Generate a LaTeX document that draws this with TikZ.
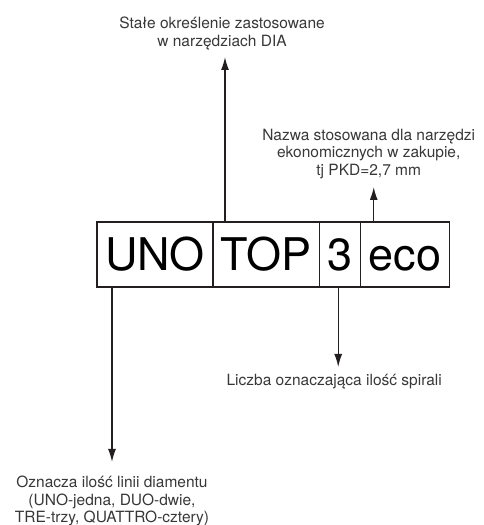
\documentclass[tikz,border=0pt]{standalone}
\usepackage{fontspec}
\setmainfont{TeX Gyre Heros}
\usetikzlibrary{positioning,arrows.meta}

\definecolor{inkgray}{HTML}{231F20}
\definecolor{notegray}{HTML}{383838}

\begin{document}
\begin{tikzpicture}[x=1pt,y=1pt,
codebox/.style={
draw=inkgray,
line width=1.3pt,
font=\fontsize{45}{45}\selectfont,
text height=32.4pt,
text depth=0pt,
minimum height=65pt,
inner xsep=8pt,
inner ysep=0pt,
outer sep=0pt,
anchor=west
},
note/.style={
font=\fontsize{15.5}{17.5}\selectfont,
text=notegray,
align=center,
inner sep=0pt
},
pointer/.style={
draw=inkgray,
line width=1.4pt,
-{Latex[length=13pt,width=8pt]}
}
]

\useasboundingbox (0,0) rectangle (483,525);

%%%%%%%%%%%%%%%%%%%%%%%%%%%%%%%%%%%%%%%%%%%%%%%%%%%%%%
% CODE BOXES
%%%%%%%%%%%%%%%%%%%%%%%%%%%%%%%%%%%%%%%%%%%%%%%%%%%%%%

\node[codebox] (uno) at (97,270.5) {UNO};

\node[codebox] (top) at (uno.east) {TOP};

\node[codebox] (three) at (top.east) {3};

\node[codebox] (eco) at (three.east) {eco};

%%%%%%%%%%%%%%%%%%%%%%%%%%%%%%%%%%%%%%%%%%%%%%%%%%%%%%
% POINTER ENDS
%%%%%%%%%%%%%%%%%%%%%%%%%%%%%%%%%%%%%%%%%%%%%%%%%%%%%%

\coordinate (unofoot) at ([xshift=15pt]uno.south west);
\coordinate (unotip) at ([yshift=-175pt]unofoot);

\coordinate (topfoot) at ([xshift=12pt]top.north west);
\coordinate (toptip) at ([yshift=165pt]topfoot);

\coordinate (threefoot) at ([xshift=-2pt]three.south);
\coordinate (threetip) at ([yshift=-80pt]threefoot);

\coordinate (ecofoot) at ([xshift=13pt]eco.north west);
\coordinate (ecotip) at ([yshift=35pt]ecofoot);

\draw[pointer] (unofoot) -- (unotip);
\draw[pointer] (topfoot) -- (toptip);
\draw[pointer] (threefoot) -- (threetip);
\draw[pointer] (ecofoot) -- (ecotip);

%%%%%%%%%%%%%%%%%%%%%%%%%%%%%%%%%%%%%%%%%%%%%%%%%%%%%%
% NOTES
%%%%%%%%%%%%%%%%%%%%%%%%%%%%%%%%%%%%%%%%%%%%%%%%%%%%%%

\node[note, above=7pt of toptip, xshift=-3pt] (topnote)
{Stałe określenie zastosowane\\w narzędziach DIA};

\node[note, above=8pt of ecotip, xshift=-5pt] (econote)
{Nazwa stosowana dla narzędzi\\ekonomicznych w zakupie,\\tj PKD=2,7 mm};

\node[note, below=7pt of threetip, xshift=-4pt] (threenote)
{Liczba oznaczająca ilość spirali};

\node[note, below=14pt of unotip] (unonote)
{Oznacza ilość linii diamentu\\(UNO-jedna, DUO-dwie,\\TRE-trzy, QUATTRO-cztery)};

\end{tikzpicture}
\end{document}
